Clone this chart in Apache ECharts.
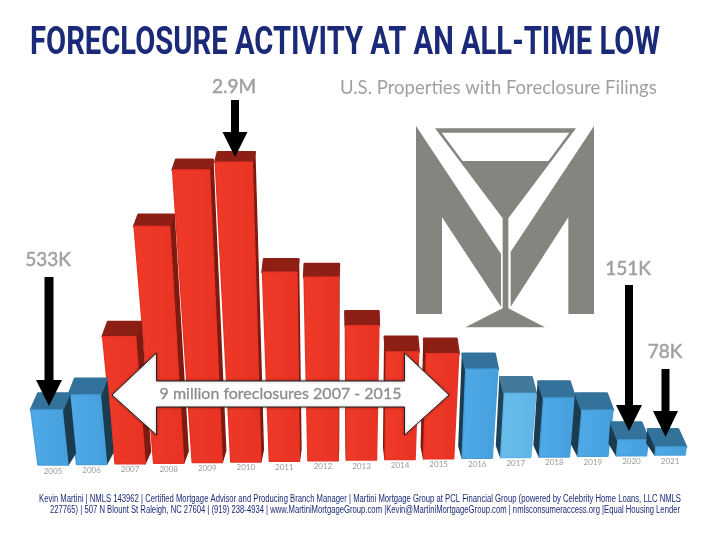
<!DOCTYPE html>
<html><head><meta charset="utf-8">
<style>html,body{margin:0;padding:0;background:#fff}#c{width:720px;height:540px}</style>
<script src="https://cdn.jsdelivr.net/npm/echarts@6/dist/echarts.min.js"></script>
</head><body><div id="c"></div>
<script>
const years = ['2005','2006','2007','2008','2009','2010','2011','2012','2013','2014','2015','2016','2017','2018','2019','2020','2021'];
const filingsK = [533,672,1230,2290,2830,2900,1830,1775,1300,1040,1015,860,620,570,445,151,78];
const titleText = 'FORECLOSURE ACTIVITY AT AN ALL-TIME LOW';
const subtitleText = 'U.S. Properties with Foreclosure Filings';
const spanText = '9 million foreclosures 2007 - 2015';
const footer1 = 'Kevin Martini | NMLS 143962 | Certified Mortgage Advisor and Producing Branch Manager | Martini Mortgage Group at PCL Financial Group (powered by Celebrity Home Loans, LLC NMLS';
const footer2 = '227765) | 507 N Blount St Raleigh, NC 27604 | (919) 238-4934 | www.MartiniMortgageGroup.com |Kevin@MartiniMortgageGroup.com | nmlsconsumeraccess.org |Equal Housing Lender';

const NAVY = '#1b2a78', GREY = '#a0a0a0', LOGO = '#858580';
const VANISH_X = 346;

function palette(i) {
  const y = +years[i];
  if (y >= 2007 && y <= 2015) return {front:['#f03a28','#e83324'], top:'#8e1f14', side:'#7f1a10'};
  if (y === 2017) return {front:['#68bdec','#5fb5e6'], top:'#44799c', side:'#1f4358'};
  return {front:['#4fabe8','#469fdb'], top:'#33729b', side:'#1b3c4f'};
}

function renderBar(params, api) {
  const i = api.value(0), v = api.value(1);
  const p0 = api.coord([i, 0]), pv = api.coord([i, v]);
  const baseY = p0[1] - 0.625 * i;
  const h = p0[1] - pv[1];
  const xb = p0[0];
  const lean = (xb - VANISH_X) * 0.0004 * h;
  const halfBottom = 15, halfTop = 15 + 3.5 * h / 300;
  const topY = baseY - h, cx = xb + lean;
  const depth = 18 - 8 * h / 300;
  const shift = (VANISH_X - xb) * 0.025;
  const fl = [cx - halfTop, topY], fr = [cx + halfTop, topY];
  const bl = [xb - halfBottom, baseY], br = [xb + halfBottom, baseY];
  const tl = [fl[0] + shift, topY - depth], tr = [fr[0] + shift, topY - depth];
  const col = palette(i);
  const z = Math.round(Math.abs(xb - VANISH_X)) * 3;
  const left = xb < VANISH_X;
  const side = left
    ? [fr, tr, [br[0] + shift, baseY - 12], br]
    : [fl, tl, [bl[0] + shift, baseY - 12], bl];
  const poly = (points, fill, zz, lw) => ({
    type:'polygon', z2: z + zz, shape:{points},
    style:{fill, stroke: typeof fill === 'string' ? fill : col.front[1], lineWidth:lw, lineJoin:'round'}
  });
  return {type:'group', children:[
    poly(side, col.side, 0, 1.5),
    poly([fl, fr, tr, tl], col.top, 1, 2.5),
    poly([fl, fr, br, bl], {type:'linear',x:0,y:0,x2:1,y2:0,colorStops:[{offset:0,color:col.front[0]},{offset:1,color:col.front[1]}]}, 2, 1.5),
    {type:'text', z2:z + 3, style:{text:years[i], x:xb, y:baseY + 6, fill:'#9a9a9a',
      font:'8px Lato', align:'center', verticalAlign:'middle'}}
  ]};
}

function downArrow(cx, top, headTop, tip, halfShaft, halfHead) {
  return {type:'polygon', z:100, shape:{points:[
    [cx-halfShaft,top],[cx+halfShaft,top],[cx+halfShaft,headTop],[cx+halfHead,headTop],
    [cx,tip],[cx-halfHead,headTop],[cx-halfShaft,headTop]]}, style:{fill:'#000'}};
}
function note(text, x, y) {
  return {type:'text', z:100, style:{text, x, y, fill:GREY, stroke:GREY, lineWidth:0.5, font:'19px Lato', align:'center', verticalAlign:'middle'}};
}
const measure = document.createElement('canvas').getContext('2d');
function fitted(text, font, fill, x0, x1, y) {
  measure.font = font;
  const w = measure.measureText(text).width;
  return {type:'text', z:100, x:x0, y, scaleX:(x1 - x0) / w,
    style:{text, x:0, y:0, fill, font, align:'left', verticalAlign:'middle'}};
}
const S = 1/3;
const logoShapes = [
  [[48,48],[303,432],[303,590],[126,322],[126,612],[48,612]],
  [[582,48],[582,612],[505,612],[505,322],[332,590],[332,425]],
  [[105,55],[528,55],[325,325],[325,595],[435,652],[196,652],[308,595],[308,325]]
];

const chart = echarts.init(document.getElementById('c'), null, {renderer:'canvas'});
chart.setOption({
  animation:false,
  backgroundColor:'#fff',
  grid:{left:33.7, width:655.6, top:155, height:310},
  xAxis:{type:'category', data:years, show:false},
  yAxis:{type:'value', min:0, max:3000, show:false},
  series:[{type:'custom', clip:false, data:filingsK.map((v,i)=>[i,v]), renderItem:renderBar, encode:{x:0,y:1}}],
  graphic:[
    fitted(titleText, 'bold 38px Roboto', NAVY, 30, 660, 44),
    {type:'text', z:100, style:{text:subtitleText, x:340, y:88, fill:GREY, font:'18.5px Lato', verticalAlign:'middle'}},
    {type:'group', x:400, y:110, scaleX:S, scaleY:S, z:50, children:[
      ...logoShapes.map(points=>({type:'polygon', z:50, shape:{points}, style:{fill:LOGO}})),
      {type:'polygon', z:51, shape:{points:[[125,68],[508,68],[445,153],[188,153]]}, style:{fill:'#fff'}}
    ]},
    downArrow(49, 277, 380, 406, 4.5, 13),
    downArrow(235, 100, 132, 157, 4, 12.5),
    downArrow(629, 285, 405, 431, 4, 13),
    downArrow(665.5, 369, 411, 437, 4, 12.5),
    note('533K', 48, 260), note('2.9M', 234, 87), note('151K', 628, 269), note('78K', 665, 352),
    {type:'polygon', z:100, shape:{points:[[112,395],[156.5,353],[156.5,381],[404.5,381],[404.5,353],[449,395],[404.5,435],[404.5,407],[156.5,407],[156.5,435]]},
      style:{fill:'#fff', stroke:'#222', lineWidth:1, shadowBlur:3, shadowColor:'rgba(0,0,0,0.35)'}},
    {type:'text', z:101, style:{text:spanText, x:280.5, y:394, fill:'#8c8c8c', stroke:'#8c8c8c', lineWidth:0.3, font:'16px Lato', align:'center', verticalAlign:'middle'}},
    fitted(footer1, '10px "Liberation Sans"', NAVY, 39, 681, 499),
    fitted(footer2, '10px "Liberation Sans"', NAVY, 50, 680, 510.5)
  ]
});
</script></body></html>
